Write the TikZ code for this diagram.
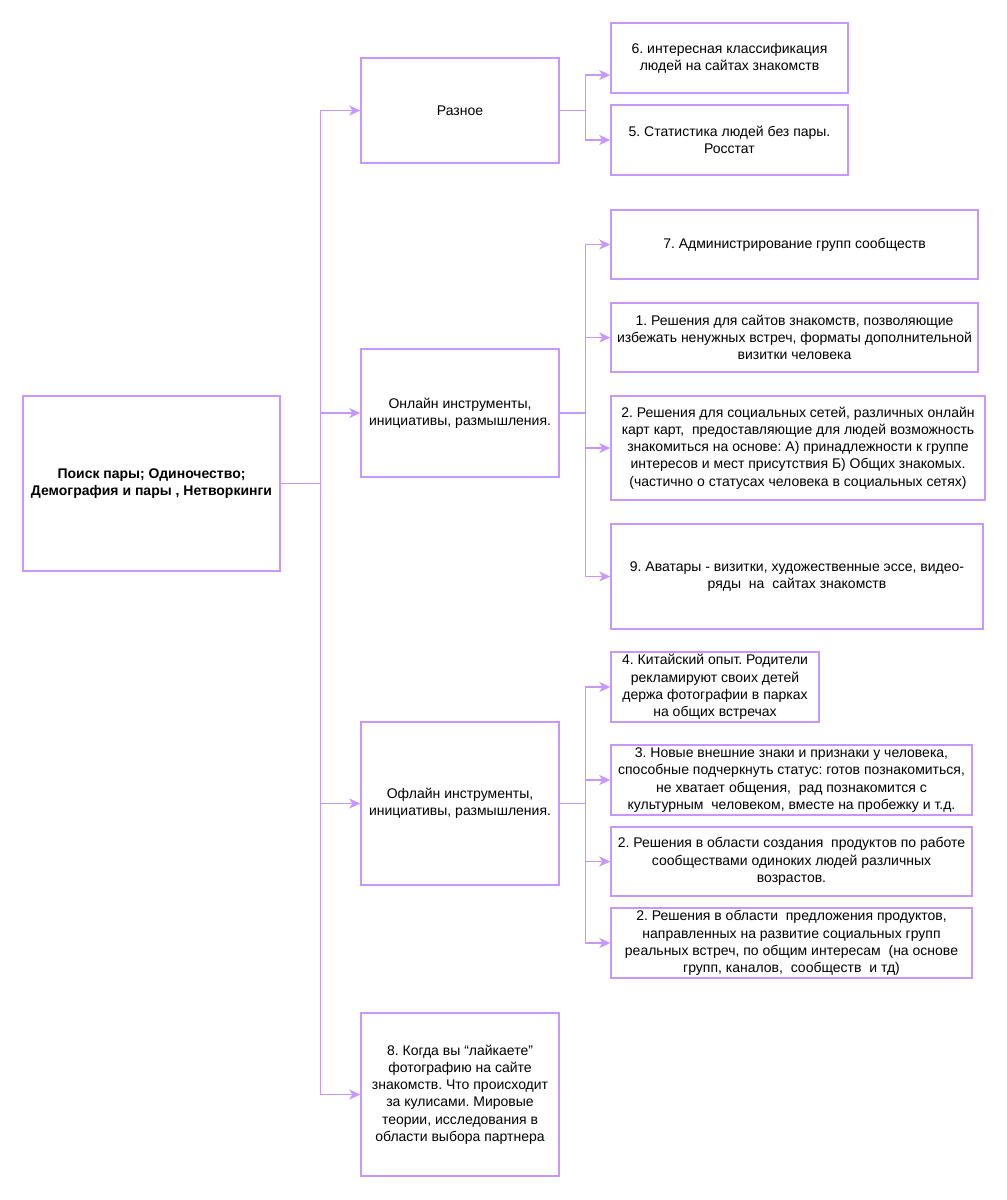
\documentclass[tikz,border=0pt]{standalone}
\usepackage{fontspec}
\setmainfont{Liberation Sans}
\usetikzlibrary{arrows.meta}
\definecolor{Lilac}{RGB}{200,150,255}
\frenchspacing
\tikzset{
  box/.style={draw=Lilac, line width=1.4pt, inner sep=0pt, align=center,
              font=\fontsize{14}{17.2}\selectfont, text=black},
  arr/.style={-{Stealth[length=11pt,width=10pt,inset=3pt]}, line width=1.4pt, color=Lilac}
}
\begin{document}
\begin{tikzpicture}[x=1pt, y=-1pt]
\useasboundingbox (0,0) rectangle (1007,1200);
% root
\node[box, minimum width=257, minimum height=175, font=\fontsize{14}{17.2}\selectfont\bfseries] (root) at (151.5,483.5)
  {Поиск пары; Одиночество;\\Демография и пары , Нетворкинги};
% second level
\node[box, minimum width=198, minimum height=105] (misc) at (460,110.5) {Разное};
\node[box, minimum width=198, minimum height=128] (online) at (460,413) {Онлайн инструменты,\\инициативы, размышления.};
\node[box, minimum width=198, minimum height=163] (offline) at (460,803.5) {Офлайн инструменты,\\инициативы, размышления.};
\node[box, minimum width=198, minimum height=163] (likes) at (460,1094.5)
  {8. Когда вы “лайкаете”\\фотографию на сайте\\знакомств. Что происходит\\за кулисами. Мировые\\теории, исследования в\\области выбора партнера};
% misc leaves
\node[box, minimum width=237, minimum height=70] (b6) at (729.5,58) {6. интересная классификация\\людей на сайтах знакомств};
\node[box, minimum width=237, minimum height=70] (b5) at (729.5,140) {5. Статистика людей без пары.\\Росстат};
% online leaves
\node[box, minimum width=367, minimum height=69] (b7) at (794.5,244.5) {7. Администрирование групп сообществ};
\node[box, minimum width=367, minimum height=69] (b1) at (794.5,337.5)
  {1. Решения для сайтов знакомств, позволяющие\\избежать ненужных встреч, форматы дополнительной\\визитки человека};
\node[box, minimum width=374, minimum height=104] (b2o) at (798,448)
  {2. Решения для социальных сетей, различных онлайн\\карт карт,\ \ предоставляющие для людей возможность\\знакомиться на основе: А) принадлежности к группе\\интересов и мест присутствия Б) Общих знакомых.\\(частично о статусах человека в социальных сетях)};
\node[box, minimum width=372, minimum height=105] (b9) at (797,576.5)
  {9. Аватары - визитки, художественные эссе, видео-\\ряды\ \ на\ \ сайтах знакомств};
% offline leaves
\node[box, minimum width=208, minimum height=70] (b4) at (715,687)
  {4. Китайский опыт. Родители\\рекламируют своих детей\\держа фотографии в парках\\на общих встречах};
\node[box, minimum width=361, minimum height=70] (b3) at (791.5,780)
  {3. Новые внешние знаки и признаки у человека,\\способные подчеркнуть статус: готов познакомиться,\\не хватает общения,\ \ рад познакомится с\\культурным\ \ человеком, вместе на пробежку и т.д.};
\node[box, minimum width=361, minimum height=69] (b2c) at (791.5,861.5)
  {2. Решения в области создания\ \ продуктов по работе\\сообществами одиноких людей различных\\возрастов.};
\node[box, minimum width=361, minimum height=70] (b2p) at (791.5,943)
  {2. Решения в области\ \ предложения продуктов,\\направленных на развитие социальных групп\\реальных встреч, по общим интересам\ \ (на основе\\групп, каналов,\ \ сообществ\ \ и тд)};
% connectors
\draw[arr] (root.east) -- ++(40,0) |- (misc.west);
\draw[arr] (root.east) -- ++(40,0) |- (online.west);
\draw[arr] (root.east) -- ++(40,0) |- (offline.west);
\draw[arr] (root.east) -- ++(40,0) |- (likes.west);
\draw[arr] (misc.east) -- ++(26,0) |- ([yshift=-17pt]b6.west);
\draw[arr] (misc.east) -- ++(26,0) |- (b5.west);
\draw[arr] (online.east) -- ++(26,0) |- (b7.west);
\draw[arr] (online.east) -- ++(26,0) |- (b1.west);
\draw[arr] (online.east) -- ++(26,0) |- (b2o.west);
\draw[arr] (online.east) -- ++(26,0) |- (b9.west);
\draw[arr] (offline.east) -- ++(26,0) |- (b4.west);
\draw[arr] (offline.east) -- ++(26,0) |- (b3.west);
\draw[arr] (offline.east) -- ++(26,0) |- (b2c.west);
\draw[arr] (offline.east) -- ++(26,0) |- (b2p.west);
\end{tikzpicture}
\end{document}
